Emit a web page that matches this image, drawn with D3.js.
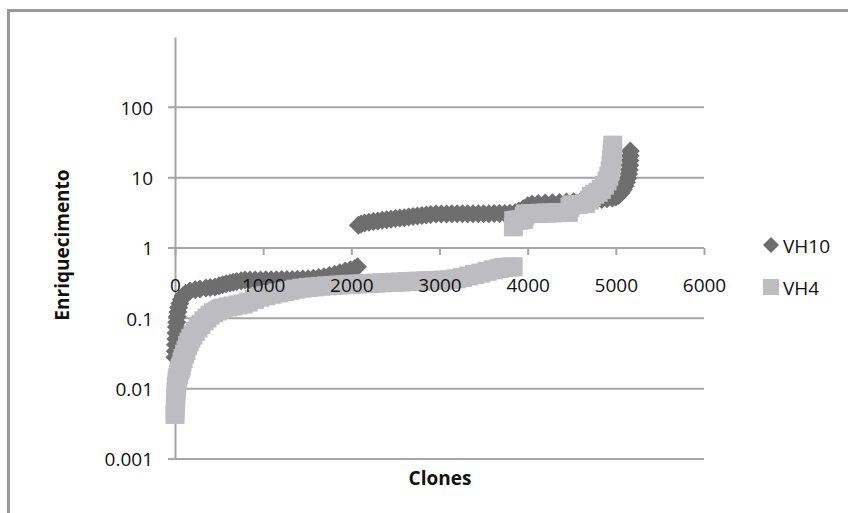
<!DOCTYPE html>
<html>
<head>
<meta charset="utf-8">
<script src="https://cdn.jsdelivr.net/npm/d3@7"></script>
<style>
  html, body { margin: 0; padding: 0; background: #fff; }
  svg { display: block; }
  text { font-family: "Open Sans", "Liberation Sans", sans-serif; }
</style>
</head>
<body>
<svg id="chart" width="848" height="513"></svg>
<script>
// Clone rank (x) and enrichment (y) for each library, sorted by rank
const vh10X = [0,3,6,9,12,16,20,26,33,42,55,70,90,120,170,230,283,350,400,454,500,540,580,624,660,700,750,794,850,910,970,1030,1090,1150,1210,1270,1330,1390,1450,1510,1570,1630,1690,1750,1810,1870,1930,1990,2040,2070,
  2080,2110,2150,2200,2250,2300,2350,2400,2450,2500,2550,2600,2650,2700,2750,2800,2850,2900,2960,3020,3080,3140,3200,3260,3320,3380,3440,3500,3560,3620,3680,3740,3800,3860,3900,3950,4000,4050,4120,4200,4280,4360,4440,4520,4600,4680,4760,4840,4900,4960,5000,5030,5060,5085,5105,5120,5135,5145,5152,5157,5160,5162,5164];
const vh10Y = [0.028,0.034,0.042,0.051,0.062,0.075,0.088,0.105,0.123,0.142,0.162,0.185,0.207,0.225,0.245,0.255,0.262,0.27,0.275,0.28,0.29,0.30,0.31,0.317,0.325,0.335,0.342,0.35,0.35,0.352,0.352,0.353,0.354,0.355,0.356,0.357,0.358,0.36,0.362,0.365,0.37,0.38,0.39,0.405,0.425,0.445,0.47,0.49,0.51,0.54,
  2.1,2.2,2.27,2.33,2.38,2.43,2.48,2.52,2.57,2.62,2.66,2.7,2.75,2.8,2.85,2.9,2.95,3.0,3.05,3.05,3.05,3.06,3.06,3.06,3.07,3.07,3.07,3.08,3.08,3.09,3.1,3.1,3.12,3.2,3.35,3.6,4.0,4.2,4.3,4.35,4.4,4.45,4.5,4.55,4.6,4.65,4.75,4.9,5.0,5.15,5.3,5.6,6.1,6.8,7.6,8.6,9.8,11.3,13,15,17.5,20.5,24];

const vh4X = [0,3,6,9,12,16,20,25,32,40,50,60,70,80,91,108,125,142,159,180,204,230,261,295,329,362,397,436,476,510,544,600,658,715,771,830,900,964,1030,1100,1170,1240,1304,1370,1440,1510,1580,1650,1720,1790,1860,1930,2000,2070,2140,2210,2280,2350,2420,2490,2560,2630,2700,2770,2840,2910,2980,3050,3120,3190,3260,3330,3400,3470,3540,3610,3680,3730,3790,3835,
  3838,3842,3870,3900,3930,3951,3962,3974,4030,4090,4150,4210,4270,4330,4382,4461,4480,4500,4575,4655,4700,4722,4760,4800,4835,4870,4900,4920,4935,4945,4952,4957,4961,4966];
const vh4Y = [0.0043,0.0052,0.0064,0.0077,0.009,0.0105,0.0115,0.013,0.0145,0.016,0.018,0.0195,0.021,0.024,0.027,0.031,0.035,0.041,0.046,0.052,0.058,0.065,0.073,0.082,0.092,0.101,0.111,0.12,0.127,0.134,0.14,0.145,0.15,0.155,0.16,0.17,0.185,0.2,0.21,0.22,0.23,0.24,0.25,0.26,0.268,0.275,0.28,0.285,0.29,0.294,0.298,0.302,0.305,0.308,0.311,0.314,0.317,0.32,0.323,0.326,0.329,0.332,0.335,0.338,0.341,0.344,0.347,0.35,0.353,0.365,0.38,0.4,0.42,0.44,0.465,0.49,0.51,0.53,0.535,0.54,
  2.0,2.45,2.48,2.5,2.52,2.55,2.8,3.05,3.08,3.1,3.12,3.14,3.16,3.18,3.2,3.2,3.8,4.1,4.17,4.3,4.8,5.4,5.8,6.2,6.8,7.8,9.0,10.5,12.5,15,18,21.5,25,29];

const xTicks = [0, 1000, 2000, 3000, 4000, 5000, 6000];
const xTickLabels = ["0", "1000", "2000", "3000", "4000", "5000", "6000"];
const yTicks = [0.001, 0.01, 0.1, 1, 10, 100];
const yTickLabels = ["0.001", "0.01", "0.1", "1", "10", "100"];
const seriesNames = ["VH10", "VH4"];

const colors = { VH10: "#6e6e6e", VH4: "#bdbdc1" };
const gridColor = "#a6a6a6";
const textColor = "#111";
const fontSize = 19;
const diamondR = 9.5;
const squareSide = 19;
const legendR = 8;

const svg = d3.select("#chart");

const x = d3.scaleLinear().domain([0, 6000]).range([175, 704]);
const y = d3.scaleLog().domain([0.001, 1000]).range([459, 37]);

// outer chart frame
svg.append("rect")
  .attr("x", 8.5).attr("y", 10.5)
  .attr("width", 1000).attr("height", 1000)
  .attr("fill", "#fff")
  .attr("stroke", "#9a9a9a").attr("stroke-width", 3);

// horizontal gridlines (with short outer tick stubs)
svg.append("g").selectAll("line")
  .data(yTicks)
  .join("line")
  .attr("x1", x(0) - 7).attr("x2", x(6000))
  .attr("y1", d => y(d)).attr("y2", d => y(d))
  .attr("stroke", gridColor).attr("stroke-width", 2);

// vertical axis line
const yAxisLines = svg.append("g")
  .attr("transform", `translate(${x(0)},0)`)
  .call(d3.axisLeft(y).tickValues(yTicks).tickFormat("").tickSize(0).tickSizeOuter(0));
yAxisLines.select(".domain").attr("stroke", gridColor).attr("stroke-width", 2);

// horizontal axis crosses at 1, ticks hang below it
const xAxisLines = svg.append("g")
  .attr("transform", `translate(0,${y(1)})`)
  .call(d3.axisBottom(x).tickValues(xTicks).tickFormat("").tickSize(7).tickSizeOuter(0));
xAxisLines.select(".domain").remove();
xAxisLines.selectAll(".tick line").attr("stroke", gridColor).attr("stroke-width", 2);

// data
const vh10 = vh10X.map((v, i) => ({ x: v, y: vh10Y[i] }));
const vh4 = vh4X.map((v, i) => ({ x: v, y: vh4Y[i] }));

const diamond = r => `M0,${-r}L${r},0L0,${r}L${-r},0Z`;

svg.append("g").selectAll("path")
  .data(vh10)
  .join("path")
  .attr("d", diamond(diamondR))
  .attr("transform", d => `translate(${x(d.x)},${y(d.y)})`)
  .attr("fill", colors.VH10);

svg.append("g").selectAll("rect")
  .data(vh4)
  .join("rect")
  .attr("x", d => x(d.x) - squareSide / 2)
  .attr("y", d => y(d.y) - squareSide / 2)
  .attr("width", squareSide).attr("height", squareSide)
  .attr("fill", colors.VH4);

// tick labels on top of the data
const yLabels = svg.append("g")
  .attr("transform", `translate(${x(0)},0)`)
  .call(d3.axisLeft(y).tickValues(yTicks)
    .tickFormat((d, i) => yTickLabels[i]).tickSize(0).tickPadding(22));
yLabels.select(".domain").remove();
yLabels.selectAll("text")
  .attr("font-family", "Open Sans").attr("font-size", fontSize)
  .attr("fill", textColor).attr("dy", "0.36em");

const xLabels = svg.append("g")
  .attr("transform", `translate(0,${y(1)})`)
  .call(d3.axisBottom(x).tickValues(xTicks)
    .tickFormat((d, i) => xTickLabels[i]).tickSize(0));
xLabels.select(".domain").remove();
xLabels.selectAll("text")
  .attr("font-family", "Open Sans").attr("font-size", fontSize)
  .attr("fill", textColor).attr("y", 37).attr("dy", "0.36em");

// axis titles
svg.append("text")
  .attr("transform", "translate(62,245) rotate(-90)")
  .attr("text-anchor", "middle").attr("dy", "0.36em")
  .attr("font-size", fontSize).attr("font-weight", "bold")
  .attr("fill", textColor)
  .text("Enriquecimento");

svg.append("text")
  .attr("x", 440).attr("y", 478)
  .attr("text-anchor", "middle").attr("dy", "0.36em")
  .attr("font-size", fontSize).attr("font-weight", "bold")
  .attr("fill", textColor)
  .text("Clones");

// legend
const legend = svg.append("g");
const legendRows = [
  { name: seriesNames[0], cy: 245 },
  { name: seriesNames[1], cy: 287 }
];
legendRows.forEach(r => {
  if (r.name === "VH10") {
    legend.append("path")
      .attr("d", diamond(legendR))
      .attr("transform", `translate(771,${r.cy})`)
      .attr("fill", colors.VH10);
  } else {
    legend.append("rect")
      .attr("x", 763).attr("y", r.cy - 8)
      .attr("width", 16).attr("height", 16)
      .attr("fill", colors.VH4);
  }
  legend.append("text")
    .attr("x", 783).attr("y", r.cy + 1).attr("dy", "0.36em")
    .attr("font-size", fontSize).attr("fill", textColor)
    .text(r.name);
});
</script>
</body>
</html>
